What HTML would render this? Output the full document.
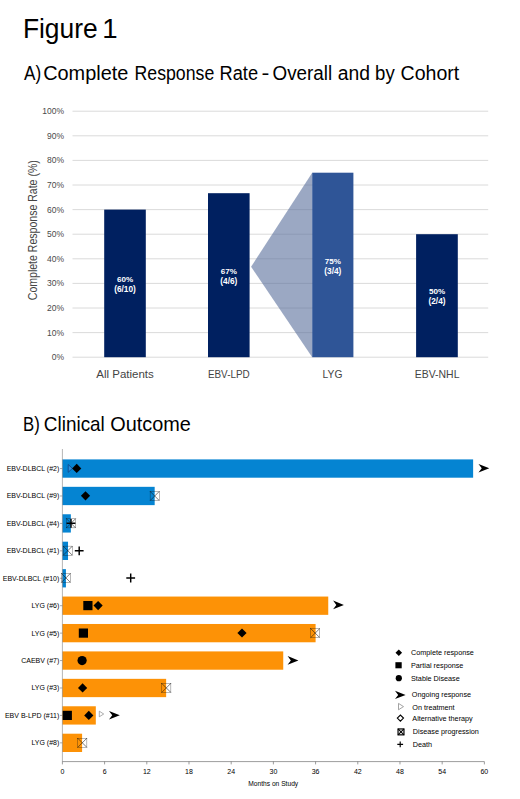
<!DOCTYPE html>
<html><head><meta charset="utf-8"><title>Figure 1</title>
<style>html,body{margin:0;padding:0;background:#fff;}body{width:520px;height:799px;overflow:hidden;font-family:"Liberation Sans", sans-serif;}svg{display:block;}text{font-family:"Liberation Sans", sans-serif;}</style>
</head><body>
<svg width="520" height="799" viewBox="0 0 520 799">
<rect x="0" y="0" width="520" height="799" fill="#ffffff"/>
<text x="22.9" y="37.5" font-size="27.6" fill="#000" text-anchor="start" font-weight="normal" textLength="74.8" lengthAdjust="spacingAndGlyphs" >Figure</text>
<text x="102.2" y="37.5" font-size="27.6" fill="#000" text-anchor="start" font-weight="normal" >1</text>
<text x="24.11" y="80" font-size="19.5" fill="#000" font-weight="normal" textLength="17.14" lengthAdjust="spacingAndGlyphs" >A)</text>
<text x="43.18" y="80" font-size="19.5" fill="#000" font-weight="normal" textLength="85.19" lengthAdjust="spacingAndGlyphs" >Complete</text>
<text x="134.55" y="80" font-size="19.5" fill="#000" font-weight="normal" textLength="79.68" lengthAdjust="spacingAndGlyphs" >Response</text>
<text x="219.50" y="80" font-size="19.5" fill="#000" font-weight="normal" textLength="38.53" lengthAdjust="spacingAndGlyphs" >Rate</text>
<text x="261.51" y="80" font-size="19.5" fill="#000" font-weight="normal" textLength="7.88" lengthAdjust="spacingAndGlyphs" >-</text>
<text x="272.53" y="80" font-size="19.5" fill="#000" font-weight="normal" textLength="59.69" lengthAdjust="spacingAndGlyphs" >Overall</text>
<text x="337.71" y="80" font-size="19.5" fill="#000" font-weight="normal" textLength="32.27" lengthAdjust="spacingAndGlyphs" >and</text>
<text x="375.06" y="80" font-size="19.5" fill="#000" font-weight="normal" textLength="19.63" lengthAdjust="spacingAndGlyphs" >by</text>
<text x="400.60" y="80" font-size="19.5" fill="#000" font-weight="normal" textLength="58.63" lengthAdjust="spacingAndGlyphs" >Cohort</text>
<text x="23.10" y="430.6" font-size="20.3" fill="#000" font-weight="normal" textLength="16.72" lengthAdjust="spacingAndGlyphs" >B)</text>
<text x="43.87" y="430.6" font-size="20.3" fill="#000" font-weight="normal" textLength="60.97" lengthAdjust="spacingAndGlyphs" >Clinical</text>
<text x="110.27" y="430.6" font-size="20.3" fill="#000" font-weight="normal" textLength="80.57" lengthAdjust="spacingAndGlyphs" >Outcome</text>
<line x1="72.5" y1="357.20" x2="488.2" y2="357.20" stroke="#d6d6d6" stroke-width="0.9"/>
<text x="64" y="360.2" font-size="8.5" fill="#4a4a4a" text-anchor="end" font-weight="normal" >0%</text>
<line x1="72.5" y1="332.60" x2="488.2" y2="332.60" stroke="#d6d6d6" stroke-width="0.9"/>
<text x="64" y="335.6" font-size="8.5" fill="#4a4a4a" text-anchor="end" font-weight="normal" >10%</text>
<line x1="72.5" y1="308.00" x2="488.2" y2="308.00" stroke="#d6d6d6" stroke-width="0.9"/>
<text x="64" y="311.0" font-size="8.5" fill="#4a4a4a" text-anchor="end" font-weight="normal" >20%</text>
<line x1="72.5" y1="283.40" x2="488.2" y2="283.40" stroke="#d6d6d6" stroke-width="0.9"/>
<text x="64" y="286.4" font-size="8.5" fill="#4a4a4a" text-anchor="end" font-weight="normal" >30%</text>
<line x1="72.5" y1="258.80" x2="488.2" y2="258.80" stroke="#d6d6d6" stroke-width="0.9"/>
<text x="64" y="261.8" font-size="8.5" fill="#4a4a4a" text-anchor="end" font-weight="normal" >40%</text>
<line x1="72.5" y1="234.20" x2="488.2" y2="234.20" stroke="#d6d6d6" stroke-width="0.9"/>
<text x="64" y="237.2" font-size="8.5" fill="#4a4a4a" text-anchor="end" font-weight="normal" >50%</text>
<line x1="72.5" y1="209.60" x2="488.2" y2="209.60" stroke="#d6d6d6" stroke-width="0.9"/>
<text x="64" y="212.6" font-size="8.5" fill="#4a4a4a" text-anchor="end" font-weight="normal" >60%</text>
<line x1="72.5" y1="185.00" x2="488.2" y2="185.00" stroke="#d6d6d6" stroke-width="0.9"/>
<text x="64" y="188.0" font-size="8.5" fill="#4a4a4a" text-anchor="end" font-weight="normal" >70%</text>
<line x1="72.5" y1="160.40" x2="488.2" y2="160.40" stroke="#d6d6d6" stroke-width="0.9"/>
<text x="64" y="163.4" font-size="8.5" fill="#4a4a4a" text-anchor="end" font-weight="normal" >80%</text>
<line x1="72.5" y1="135.80" x2="488.2" y2="135.80" stroke="#d6d6d6" stroke-width="0.9"/>
<text x="64" y="138.8" font-size="8.5" fill="#4a4a4a" text-anchor="end" font-weight="normal" >90%</text>
<line x1="72.5" y1="111.20" x2="488.2" y2="111.20" stroke="#d6d6d6" stroke-width="0.9"/>
<text x="64" y="114.2" font-size="8.5" fill="#4a4a4a" text-anchor="end" font-weight="normal" >100%</text>
<polygon points="251.1,266.7 312.2,172.70 312.2,357.20" fill="#586e9b" fill-opacity="0.6"/>
<rect x="104.2" y="209.60" width="41.60" height="147.60" fill="#002060"/>
<text x="125" y="282" font-size="8.1" fill="#fff" text-anchor="middle" font-weight="bold" >60%</text>
<text x="125" y="292.0" font-size="8.3" fill="#fff" text-anchor="middle" font-weight="bold" >(6/10)</text>
<text x="125.0" y="377.5" font-size="11.2" fill="#444" text-anchor="middle" font-weight="normal" textLength="57.5" lengthAdjust="spacingAndGlyphs" >All Patients</text>
<rect x="208.0" y="193.19" width="41.60" height="164.01" fill="#002060"/>
<text x="228.8" y="273.5" font-size="8.1" fill="#fff" text-anchor="middle" font-weight="bold" >67%</text>
<text x="228.8" y="283.5" font-size="8.3" fill="#fff" text-anchor="middle" font-weight="bold" >(4/6)</text>
<text x="228.8" y="377.5" font-size="11.2" fill="#444" text-anchor="middle" font-weight="normal" textLength="41.8" lengthAdjust="spacingAndGlyphs" >EBV-LPD</text>
<rect x="312.2" y="172.70" width="41.20" height="184.50" fill="#2f5597"/>
<text x="332.8" y="263.7" font-size="8.1" fill="#fff" text-anchor="middle" font-weight="bold" >75%</text>
<text x="332.8" y="273.7" font-size="8.3" fill="#fff" text-anchor="middle" font-weight="bold" >(3/4)</text>
<text x="332.49999999999994" y="377.5" font-size="11.2" fill="#444" text-anchor="middle" font-weight="normal" textLength="19.8" lengthAdjust="spacingAndGlyphs" >LYG</text>
<rect x="416.1" y="234.20" width="41.70" height="123.00" fill="#002060"/>
<text x="437" y="294.2" font-size="8.1" fill="#fff" text-anchor="middle" font-weight="bold" >50%</text>
<text x="437" y="304.2" font-size="8.3" fill="#fff" text-anchor="middle" font-weight="bold" >(2/4)</text>
<text x="437.15000000000003" y="377.5" font-size="11.2" fill="#444" text-anchor="middle" font-weight="normal" textLength="44.6" lengthAdjust="spacingAndGlyphs" >EBV-NHL</text>
<text transform="translate(36.9,230.2) rotate(-90)" font-size="12" fill="#444" text-anchor="middle" textLength="140" lengthAdjust="spacingAndGlyphs">Complete Response Rate (%)</text>
<rect x="62.4" y="459.40" width="410.73" height="18.3" fill="#0584d2"/>
<text x="59.3" y="471.05" font-size="7" fill="#000" text-anchor="end" font-weight="normal" >EBV-DLBCL (#2)</text>
<line x1="60" y1="468.55" x2="62.4" y2="468.55" stroke="#555" stroke-width="0.5"/>
<rect x="62.4" y="486.83" width="92.27" height="18.3" fill="#0584d2"/>
<text x="59.3" y="498.48" font-size="7" fill="#000" text-anchor="end" font-weight="normal" >EBV-DLBCL (#9)</text>
<line x1="60" y1="495.98" x2="62.4" y2="495.98" stroke="#555" stroke-width="0.5"/>
<rect x="62.4" y="514.26" width="8.44" height="18.3" fill="#0584d2"/>
<text x="59.3" y="525.91" font-size="7" fill="#000" text-anchor="end" font-weight="normal" >EBV-DLBCL (#4)</text>
<line x1="60" y1="523.41" x2="62.4" y2="523.41" stroke="#555" stroke-width="0.5"/>
<rect x="62.4" y="541.69" width="5.63" height="18.3" fill="#0584d2"/>
<text x="59.3" y="553.34" font-size="7" fill="#000" text-anchor="end" font-weight="normal" >EBV-DLBCL (#1)</text>
<line x1="60" y1="550.84" x2="62.4" y2="550.84" stroke="#555" stroke-width="0.5"/>
<rect x="62.4" y="569.12" width="3.52" height="18.3" fill="#0584d2"/>
<text x="59.3" y="580.77" font-size="7" fill="#000" text-anchor="end" font-weight="normal" >EBV-DLBCL (#10)</text>
<line x1="60" y1="578.27" x2="62.4" y2="578.27" stroke="#555" stroke-width="0.5"/>
<rect x="62.4" y="596.55" width="265.85" height="18.3" fill="#fd9206"/>
<text x="59.3" y="608.2" font-size="7" fill="#000" text-anchor="end" font-weight="normal" >LYG (#6)</text>
<line x1="60" y1="605.70" x2="62.4" y2="605.70" stroke="#555" stroke-width="0.5"/>
<rect x="62.4" y="623.98" width="253.19" height="18.3" fill="#fd9206"/>
<text x="59.3" y="635.63" font-size="7" fill="#000" text-anchor="end" font-weight="normal" >LYG (#5)</text>
<line x1="60" y1="633.13" x2="62.4" y2="633.13" stroke="#555" stroke-width="0.5"/>
<rect x="62.4" y="651.41" width="220.84" height="18.3" fill="#fd9206"/>
<text x="59.3" y="663.06" font-size="7" fill="#000" text-anchor="end" font-weight="normal" >CAEBV (#7)</text>
<line x1="60" y1="660.56" x2="62.4" y2="660.56" stroke="#555" stroke-width="0.5"/>
<rect x="62.4" y="678.84" width="103.74" height="18.3" fill="#fd9206"/>
<text x="59.3" y="690.49" font-size="7" fill="#000" text-anchor="end" font-weight="normal" >LYG (#3)</text>
<line x1="60" y1="687.99" x2="62.4" y2="687.99" stroke="#555" stroke-width="0.5"/>
<rect x="62.4" y="706.27" width="33.41" height="18.3" fill="#fd9206"/>
<text x="59.3" y="717.92" font-size="7" fill="#000" text-anchor="end" font-weight="normal" >EBV B-LPD (#11)</text>
<line x1="60" y1="715.42" x2="62.4" y2="715.42" stroke="#555" stroke-width="0.5"/>
<rect x="62.4" y="733.70" width="19.69" height="18.3" fill="#fd9206"/>
<text x="59.3" y="745.35" font-size="7" fill="#000" text-anchor="end" font-weight="normal" >LYG (#8)</text>
<line x1="60" y1="742.85" x2="62.4" y2="742.85" stroke="#555" stroke-width="0.5"/>
<line x1="62.4" y1="449" x2="62.4" y2="761.6" stroke="#777" stroke-width="0.55"/>
<line x1="62.4" y1="761.6" x2="484.38" y2="761.6" stroke="#5a5a5a" stroke-width="0.6"/>
<line x1="62.40" y1="761.6" x2="62.40" y2="764.4" stroke="#5a5a5a" stroke-width="0.6"/>
<text x="62.4" y="774.1" font-size="7" fill="#000" text-anchor="middle" font-weight="normal" >0</text>
<line x1="104.60" y1="761.6" x2="104.60" y2="764.4" stroke="#5a5a5a" stroke-width="0.6"/>
<text x="104.6" y="774.1" font-size="7" fill="#000" text-anchor="middle" font-weight="normal" >6</text>
<line x1="146.80" y1="761.6" x2="146.80" y2="764.4" stroke="#5a5a5a" stroke-width="0.6"/>
<text x="146.8" y="774.1" font-size="7" fill="#000" text-anchor="middle" font-weight="normal" >12</text>
<line x1="188.99" y1="761.6" x2="188.99" y2="764.4" stroke="#5a5a5a" stroke-width="0.6"/>
<text x="188.99" y="774.1" font-size="7" fill="#000" text-anchor="middle" font-weight="normal" >18</text>
<line x1="231.19" y1="761.6" x2="231.19" y2="764.4" stroke="#5a5a5a" stroke-width="0.6"/>
<text x="231.19" y="774.1" font-size="7" fill="#000" text-anchor="middle" font-weight="normal" >24</text>
<line x1="273.39" y1="761.6" x2="273.39" y2="764.4" stroke="#5a5a5a" stroke-width="0.6"/>
<text x="273.39" y="774.1" font-size="7" fill="#000" text-anchor="middle" font-weight="normal" >30</text>
<line x1="315.59" y1="761.6" x2="315.59" y2="764.4" stroke="#5a5a5a" stroke-width="0.6"/>
<text x="315.59" y="774.1" font-size="7" fill="#000" text-anchor="middle" font-weight="normal" >36</text>
<line x1="357.79" y1="761.6" x2="357.79" y2="764.4" stroke="#5a5a5a" stroke-width="0.6"/>
<text x="357.79" y="774.1" font-size="7" fill="#000" text-anchor="middle" font-weight="normal" >42</text>
<line x1="399.98" y1="761.6" x2="399.98" y2="764.4" stroke="#5a5a5a" stroke-width="0.6"/>
<text x="399.98" y="774.1" font-size="7" fill="#000" text-anchor="middle" font-weight="normal" >48</text>
<line x1="442.18" y1="761.6" x2="442.18" y2="764.4" stroke="#5a5a5a" stroke-width="0.6"/>
<text x="442.18" y="774.1" font-size="7" fill="#000" text-anchor="middle" font-weight="normal" >54</text>
<line x1="484.38" y1="761.6" x2="484.38" y2="764.4" stroke="#5a5a5a" stroke-width="0.6"/>
<text x="484.38" y="774.1" font-size="7" fill="#000" text-anchor="middle" font-weight="normal" >60</text>
<text x="273.2" y="785.5" font-size="7" fill="#000" text-anchor="middle" font-weight="normal" textLength="50" lengthAdjust="spacingAndGlyphs" >Months on Study</text>
<polygon points="68.20,464.50 72.40,468.40 68.20,472.30" fill="#2f8fdc" stroke="#0f4a8c" stroke-width="0.9"/>
<polygon points="72.10,468.40 76.70,463.80 81.30,468.40 76.70,473.00" fill="#000" stroke="none" stroke-width="0"/>
<polygon points="478.50,463.90 489.30,468.20 478.50,472.50 481.74,468.20" fill="#000"/>
<polygon points="80.90,495.80 85.50,491.20 90.10,495.80 85.50,500.40" fill="#000" stroke="none" stroke-width="0"/>
<g stroke="#111" stroke-width="0.55" fill="none"><rect x="150.10" y="491.40" width="9.2" height="9.2" stroke-width="0.3"/><line x1="150.10" y1="491.40" x2="159.30" y2="500.60"/><line x1="150.10" y1="500.60" x2="159.30" y2="491.40"/></g>
<g stroke="#111" stroke-width="0.55" fill="none"><rect x="66.40" y="518.70" width="9.2" height="9.2" stroke-width="0.3"/><line x1="66.40" y1="518.70" x2="75.60" y2="527.90"/><line x1="66.40" y1="527.90" x2="75.60" y2="518.70"/></g>
<path d="M66.60 523.30H75.40M71.00 518.90V527.70" stroke="#000" stroke-width="1.45" fill="none"/>
<g stroke="#111" stroke-width="0.55" fill="none"><rect x="63.20" y="546.10" width="9.2" height="9.2" stroke-width="0.3"/><line x1="63.20" y1="546.10" x2="72.40" y2="555.30"/><line x1="63.20" y1="555.30" x2="72.40" y2="546.10"/></g>
<path d="M74.80 550.80H83.60M79.20 546.40V555.20" stroke="#000" stroke-width="1.45" fill="none"/>
<g stroke="#111" stroke-width="0.55" fill="none"><rect x="61.30" y="573.30" width="9.2" height="9.2" stroke-width="0.3"/><line x1="61.30" y1="573.30" x2="70.50" y2="582.50"/><line x1="61.30" y1="582.50" x2="70.50" y2="573.30"/></g>
<path d="M126.30 578.00H135.10M130.70 573.60V582.40" stroke="#000" stroke-width="1.45" fill="none"/>
<rect x="83.30" y="601.00" width="9.2" height="9.2" fill="#000"/>
<polygon points="93.50,605.60 98.10,601.00 102.70,605.60 98.10,610.20" fill="#000" stroke="none" stroke-width="0"/>
<polygon points="333.10,600.60 343.90,604.90 333.10,609.20 336.34,604.90" fill="#000"/>
<rect x="78.80" y="628.50" width="9.2" height="9.2" fill="#000"/>
<polygon points="237.40,633.00 242.00,628.40 246.60,633.00 242.00,637.60" fill="#000" stroke="none" stroke-width="0"/>
<g stroke="#111" stroke-width="0.55" fill="none"><rect x="310.60" y="628.50" width="9.2" height="9.2" stroke-width="0.3"/><line x1="310.60" y1="628.50" x2="319.80" y2="637.70"/><line x1="310.60" y1="637.70" x2="319.80" y2="628.50"/></g>
<circle cx="82.10" cy="660.60" r="4.6" fill="#000"/>
<polygon points="287.60,656.10 298.40,660.40 287.60,664.70 290.84,660.40" fill="#000"/>
<polygon points="78.00,687.90 82.60,683.30 87.20,687.90 82.60,692.50" fill="#000" stroke="none" stroke-width="0"/>
<g stroke="#111" stroke-width="0.55" fill="none"><rect x="161.70" y="683.30" width="9.2" height="9.2" stroke-width="0.3"/><line x1="161.70" y1="683.30" x2="170.90" y2="692.50"/><line x1="161.70" y1="692.50" x2="170.90" y2="683.30"/></g>
<rect x="62.70" y="710.80" width="9.2" height="9.2" fill="#000"/>
<polygon points="84.20,715.40 88.80,710.80 93.40,715.40 88.80,720.00" fill="#000" stroke="none" stroke-width="0"/>
<polygon points="99.30,711.20 103.70,714.00 99.30,716.80" fill="#fff" stroke="#8a8a8a" stroke-width="0.7"/>
<polygon points="109.00,711.00 119.80,715.30 109.00,719.60 112.24,715.30" fill="#000"/>
<g stroke="#111" stroke-width="0.55" fill="none"><rect x="77.70" y="738.20" width="9.2" height="9.2" stroke-width="0.3"/><line x1="77.70" y1="738.20" x2="86.90" y2="747.40"/><line x1="77.70" y1="747.40" x2="86.90" y2="738.20"/></g>
<polygon points="395.50,652.70 398.80,649.40 402.10,652.70 398.80,656.00" fill="#000" stroke="none" stroke-width="0"/>
<text x="411" y="655.3" font-size="7.25" fill="#000" text-anchor="start" font-weight="normal" >Complete response</text>
<rect x="395.4" y="662.2" width="6.3" height="6.1" fill="#000"/>
<text x="411" y="668.2" font-size="7.25" fill="#000" text-anchor="start" font-weight="normal" >Partial response</text>
<circle cx="398.80" cy="678.20" r="3.1" fill="#000"/>
<text x="411" y="680.8" font-size="7.25" fill="#000" text-anchor="start" font-weight="normal" >Stable Disease</text>
<polygon points="395.00,690.85 405.60,694.90 395.00,698.95 398.18,694.90" fill="#000"/>
<text x="411.8" y="696.7" font-size="7.25" fill="#000" text-anchor="start" font-weight="normal" >Ongoing response</text>
<polygon points="398.50,703.40 403.50,706.60 398.50,709.80" fill="#fff" stroke="#8c8c8c" stroke-width="0.8"/>
<text x="412.3" y="709.6" font-size="7.25" fill="#000" text-anchor="start" font-weight="normal" >On treatment</text>
<polygon points="397.30,718.10 400.40,715.00 403.50,718.10 400.40,721.20" fill="#fff" stroke="#000" stroke-width="1.1"/>
<text x="412.3" y="721.3" font-size="7.25" fill="#000" text-anchor="start" font-weight="normal" >Alternative therapy</text>
<g stroke="#000" stroke-width="1.05" fill="none"><rect x="398.05" y="728.95" width="5.9" height="5.9" stroke-width="1.2"/><line x1="398.05" y1="728.95" x2="403.95" y2="734.85"/><line x1="398.05" y1="734.85" x2="403.95" y2="728.95"/></g>
<text x="412.8" y="734.3" font-size="7.25" fill="#000" text-anchor="start" font-weight="normal" >Disease progression</text>
<path d="M397.30 744.30H403.10M400.20 741.40V747.20" stroke="#000" stroke-width="1.15" fill="none"/>
<text x="412.8" y="747.1" font-size="7.25" fill="#000" text-anchor="start" font-weight="normal" >Death</text>
</svg>
</body></html>
